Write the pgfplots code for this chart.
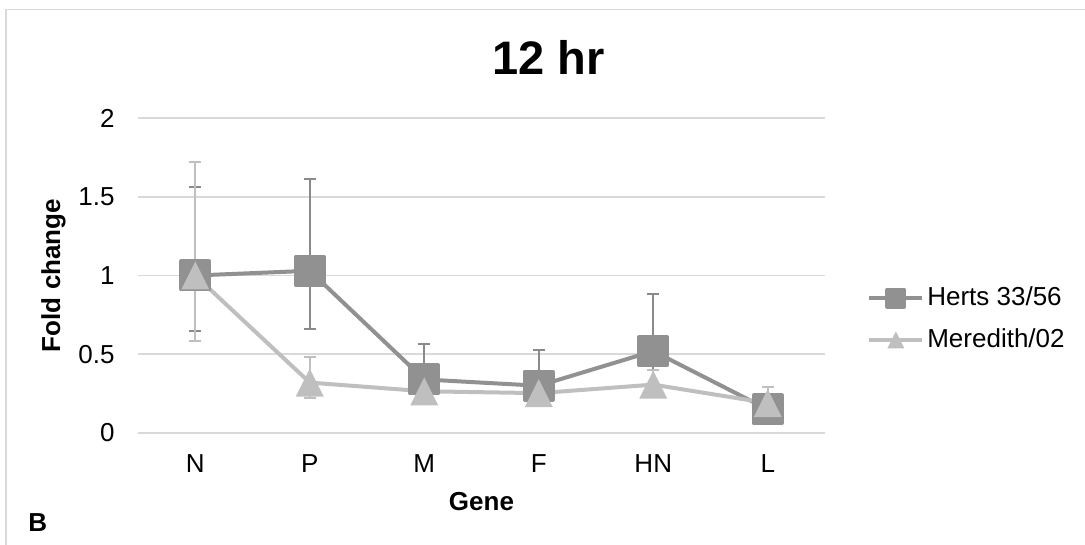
\documentclass[border=0pt]{standalone}
\usepackage{pgfplots}
\pgfplotsset{compat=1.18}
\usepackage{pgfplotstable}
\usepackage{fontspec}
\setmainfont{Liberation Sans}

\definecolor{herts}{HTML}{919191}
\definecolor{hertsbar}{HTML}{8A8A8A}
\definecolor{mered}{HTML}{BFBFBF}
\definecolor{gridc}{HTML}{D9D9D9}

% isosceles triangle marker, centred on its bounding box
\pgfdeclareplotmark{xltri}{%
  \pgfpathmoveto{\pgfqpoint{0pt}{\pgfplotmarksize}}%
  \pgfpathlineto{\pgfqpoint{-\pgfplotmarksize}{-\pgfplotmarksize}}%
  \pgfpathlineto{\pgfqpoint{\pgfplotmarksize}{-\pgfplotmarksize}}%
  \pgfpathclose\pgfusepathqfill}

% fold change per gene: mean, upper and lower error
\pgfplotstableread{
x y ep em
0 1.00 0.56 0.35
1 1.03 0.58 0.37
2 0.34 0.225 0.06
3 0.30 0.23 0.06
4 0.52 0.36 0.12
5 0.15 0.10 0.05
}\herts
\pgfplotstableread{
x y ep em
0 1.00 0.72 0.414
1 0.32 0.16 0.10
2 0.265 0.05 0.05
3 0.253 0.05 0.05
4 0.307 0.095 0.05
5 0.19 0.10 0.06
}\meredith

\newcommand{\basefont}{\fontsize{13}{15.6}\selectfont}

\begin{document}
\begin{tikzpicture}
\useasboundingbox (0,0) rectangle (542.5pt,272.5pt);
% chart area frame
\begin{scope}
\clip (0,0) rectangle (542.5pt,272.5pt);
\draw[gridc, line width=0.8pt] (3pt,-20pt) rectangle (580pt,267.75pt);
\end{scope}

\begin{axis}[
  at={(69pt,56pt)}, anchor=south west,
  scale only axis, width=343.5pt, height=157.5pt,
  xmin=-0.5, xmax=5.5, ymin=0, ymax=2,
  xtick={0,...,5}, xticklabels={N,P,M,F,HN,L},
  ytick={0,0.5,...,2},
  yticklabels={0,0.5,1,1.5,2},
  axis line style={draw=none},
  major tick length=0pt,
  ymajorgrids, grid style={gridc, line width=0.9pt},
  tick label style={font=\basefont},
  yticklabel style={anchor=east, inner sep=0pt, xshift=-11.5pt},
  xticklabel style={anchor=north, inner sep=0pt, yshift=-10.5pt},
  /pgf/number format/assume math mode=true,
  clip=false,
  legend style={at={(axis description cs:1.061,0.362)}, anchor=west,
    draw=none, fill=none, inner sep=0pt, font=\basefont,
    row sep=7pt, nodes={inner sep=1.5pt}},
  legend cell align=left,
  legend image code/.code={%
    \draw[mark repeat=2,mark phase=2,#1,mark size=4.25pt]
      plot coordinates {(0pt,0pt) (13.25pt,0pt) (26.5pt,0pt)};},
]
\addplot[herts, line width=2pt, line join=round,
  mark=square*, mark size=7pt, mark options={solid, fill=herts, draw=none},
  error bars/.cd, y dir=both, y explicit,
  error bar style={hertsbar, line width=1pt},
  error mark options={rotate=90, mark size=3pt, hertsbar, line width=1pt}]
  table[x=x, y=y, y error plus=ep, y error minus=em] {\herts};
\addlegendentry{Herts 33/56}

\addplot[mered, line width=2pt, line join=round,
  mark=xltri, mark size=7pt, mark options={solid, fill=mered, draw=none},
  error bars/.cd, y dir=both, y explicit,
  error bar style={mered, line width=1pt},
  error mark options={rotate=90, mark size=3pt, mered, line width=1pt}]
  table[x=x, y=y, y error plus=ep, y error minus=em] {\meredith};
\addlegendentry{Meredith/02}

\node[anchor=base, font=\fontsize{23.5}{28}\selectfont\bfseries]
  at (axis description cs:0.598,1.137) {12 hr};
\node[anchor=base, font=\basefont\bfseries]
  at (axis description cs:0.5,-0.2476) {Gene};
\node[anchor=base, rotate=90, font=\basefont\bfseries]
  at (axis description cs:-0.1135,0.5) {Fold change};
\end{axis}

\node[anchor=base west, inner sep=0pt, font=\basefont\bfseries]
  at (14pt,6.5pt) {B};
\end{tikzpicture}
\end{document}
